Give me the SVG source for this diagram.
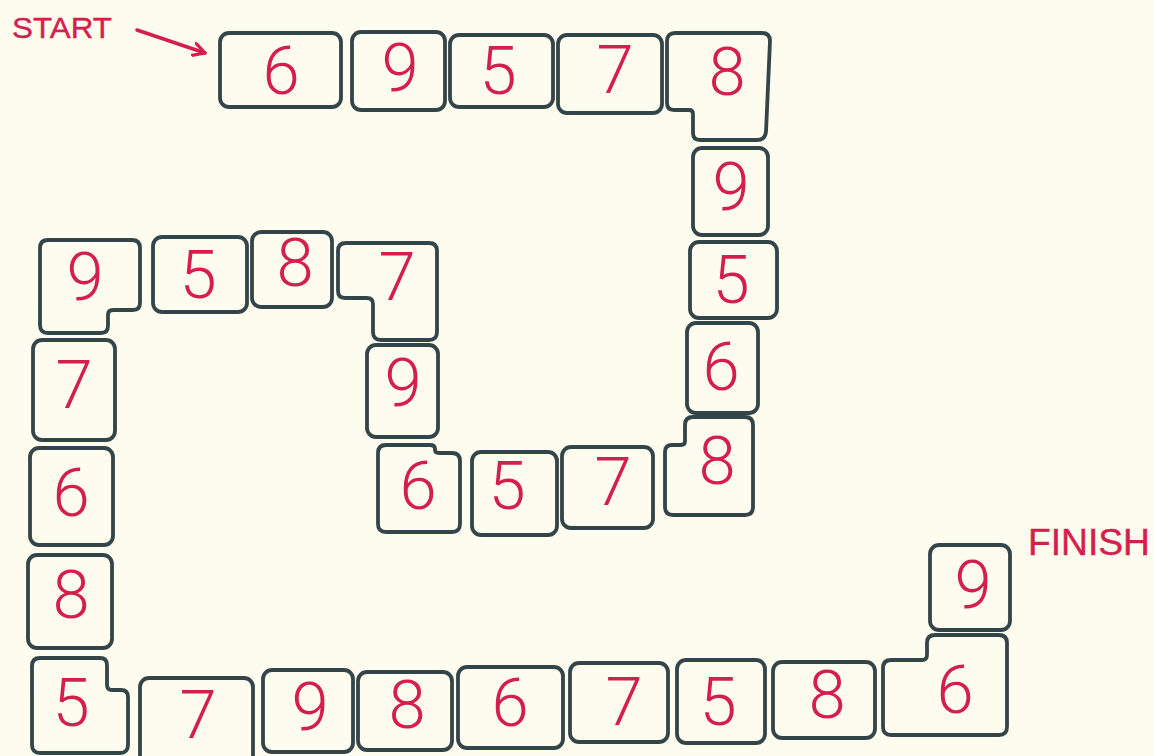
<svg xmlns="http://www.w3.org/2000/svg" width="1154" height="756" viewBox="0 0 1154 756">
<defs>
<style>
.b{fill:none;stroke:#34454a;stroke-width:3.8;stroke-linejoin:round}
.d{font-family:Roboto,"Liberation Sans",sans-serif;font-weight:300;font-size:67px;fill:#d41f4c;text-anchor:middle}
.l{font-family:"Liberation Sans",Arial,sans-serif;fill:#d41f4c;stroke:#d41f4c;stroke-width:0.4}
</style>
<marker id="ah" viewBox="0 0 14 14" refX="12" refY="7" markerWidth="15" markerHeight="15" markerUnits="userSpaceOnUse" orient="auto">
<path d="M1,1 L12,7 L1,13" fill="none" stroke="#d41f4c" stroke-width="3" stroke-linecap="round" stroke-linejoin="round"/>
</marker>
</defs>
<rect width="1154" height="756" fill="#fdfcee"/>
<text class="l" x="12" y="38" font-size="29" textLength="100" lengthAdjust="spacingAndGlyphs">START</text>
<text class="l" x="1028" y="555" font-size="36" textLength="122" lengthAdjust="spacingAndGlyphs">FINISH</text>
<g id="connectors">
<path d="M137,30 L205,53" fill="none" stroke="#d41f4c" stroke-width="3.5" stroke-linecap="round" marker-end="url(#ah)"/>
</g>
<g id="n1"><rect class="b" x="220" y="33" width="121" height="74" rx="9"/><text class="d" x="281" y="94">6</text></g>
<g id="n2"><rect class="b" x="352" y="32" width="93" height="78" rx="9"/><text class="d" x="400" y="91">9</text></g>
<g id="n3"><rect class="b" x="450" y="35" width="103" height="72" rx="9"/><text class="d" x="498" y="94">5</text></g>
<g id="n4"><rect class="b" x="558" y="35" width="104" height="78" rx="9"/><text class="d" x="615" y="93">7</text></g>
<g id="n5"><path class="b" d="M675,33 H762 Q770,33 770,41 L766,132 Q765,140 757,140 H700 Q693,140 693,133 V114 Q693,110 689,110 H674 Q667,110 667,103 V41 Q667,33 675,33 Z"/><text class="d" x="727" y="95">8</text></g>
<g id="n6"><rect class="b" x="693" y="148" width="75" height="87" rx="9"/><text class="d" x="731" y="210">9</text></g>
<g id="n7"><rect class="b" x="690" y="242" width="87" height="76" rx="9"/><text class="d" x="731" y="303">5</text></g>
<g id="n8"><rect class="b" x="687" y="323" width="71" height="90" rx="9"/><text class="d" x="721" y="390">6</text></g>
<g id="n9"><path class="b" d="M693,417 H745 Q753,417 753,425 V507 Q753,515 745,515 H673 Q665,515 665,507 V452 Q665,445 672,445 H681 Q685,445 685,441 V425 Q685,417 693,417 Z"/><text class="d" x="717" y="484">8</text></g>
<g id="n10"><rect class="b" x="562" y="447" width="91" height="81" rx="9"/><text class="d" x="613" y="505">7</text></g>
<g id="n11"><rect class="b" x="472" y="452" width="85" height="83" rx="9"/><text class="d" x="507" y="509">5</text></g>
<g id="n12"><path class="b" d="M386,445 H430 Q435,445 435,449 V450 Q435,453 439,453 H452 Q460,453 460,461 V524 Q460,532 452,532 H386 Q378,532 378,524 V453 Q378,445 386,445 Z"/><text class="d" x="418" y="509">6</text></g>
<g id="n13"><rect class="b" x="367" y="345" width="71" height="92" rx="9"/><text class="d" x="403" y="406">9</text></g>
<g id="n14"><path class="b" d="M346,243 H429 Q437,243 437,251 V332 Q437,340 429,340 H381 Q373,340 373,332 V304 Q373,298 367,298 H345 Q338,298 338,291 V251 Q338,243 346,243 Z"/><text class="d" x="397" y="300">7</text></g>
<g id="n15"><rect class="b" x="252" y="232" width="80" height="75" rx="9"/><text class="d" x="295" y="286">8</text></g>
<g id="n16"><rect class="b" x="153" y="237" width="94" height="75" rx="9"/><text class="d" x="198" y="298">5</text></g>
<g id="n17"><path class="b" d="M48,240 H132 Q140,240 140,248 V303 Q140,310 133,310 H113 Q108,310 108,315 V326 Q108,333 101,333 H48 Q40,333 40,325 V248 Q40,240 48,240 Z"/><text class="d" x="85" y="300">9</text></g>
<g id="n18"><rect class="b" x="33" y="340" width="82" height="100" rx="9"/><text class="d" x="74" y="408">7</text></g>
<g id="n19"><rect class="b" x="30" y="448" width="83" height="97" rx="9"/><text class="d" x="71" y="516">6</text></g>
<g id="n20"><rect class="b" x="28" y="555" width="84" height="93" rx="9"/><text class="d" x="71" y="618">8</text></g>
<g id="n21"><path class="b" d="M40,658 H100 Q107,658 107,665 V685 Q107,690 112,690 H121 Q128,690 128,697 V745 Q128,753 120,753 H40 Q32,753 32,745 V666 Q32,658 40,658 Z"/><text class="d" x="71" y="726">5</text></g>
<g id="n22"><rect class="b" x="140" y="678" width="113" height="86" rx="9"/><text class="d" x="198" y="738">7</text></g>
<g id="n23"><rect class="b" x="263" y="670" width="90" height="82" rx="9"/><text class="d" x="310" y="730">9</text></g>
<g id="n24"><rect class="b" x="358" y="672" width="94" height="78" rx="9"/><text class="d" x="407" y="728">8</text></g>
<g id="n25"><rect class="b" x="458" y="667" width="105" height="81" rx="9"/><text class="d" x="510" y="726">6</text></g>
<g id="n26"><rect class="b" x="570" y="663" width="98" height="79" rx="9"/><text class="d" x="624" y="725">7</text></g>
<g id="n27"><rect class="b" x="677" y="660" width="88" height="83" rx="9"/><text class="d" x="718" y="725">5</text></g>
<g id="n28"><rect class="b" x="773" y="662" width="102" height="76" rx="9"/><text class="d" x="827" y="718">8</text></g>
<g id="n29"><path class="b" d="M891,660 H922 Q927,660 927,655 V643 Q927,635 935,635 H999 Q1007,635 1007,643 V727 Q1007,735 999,735 H891 Q883,735 883,727 V668 Q883,660 891,660 Z"/><text class="d" x="955" y="713">6</text></g>
<g id="n30"><rect class="b" x="930" y="545" width="80" height="85" rx="9"/><text class="d" x="973" y="608">9</text></g>
</svg>
